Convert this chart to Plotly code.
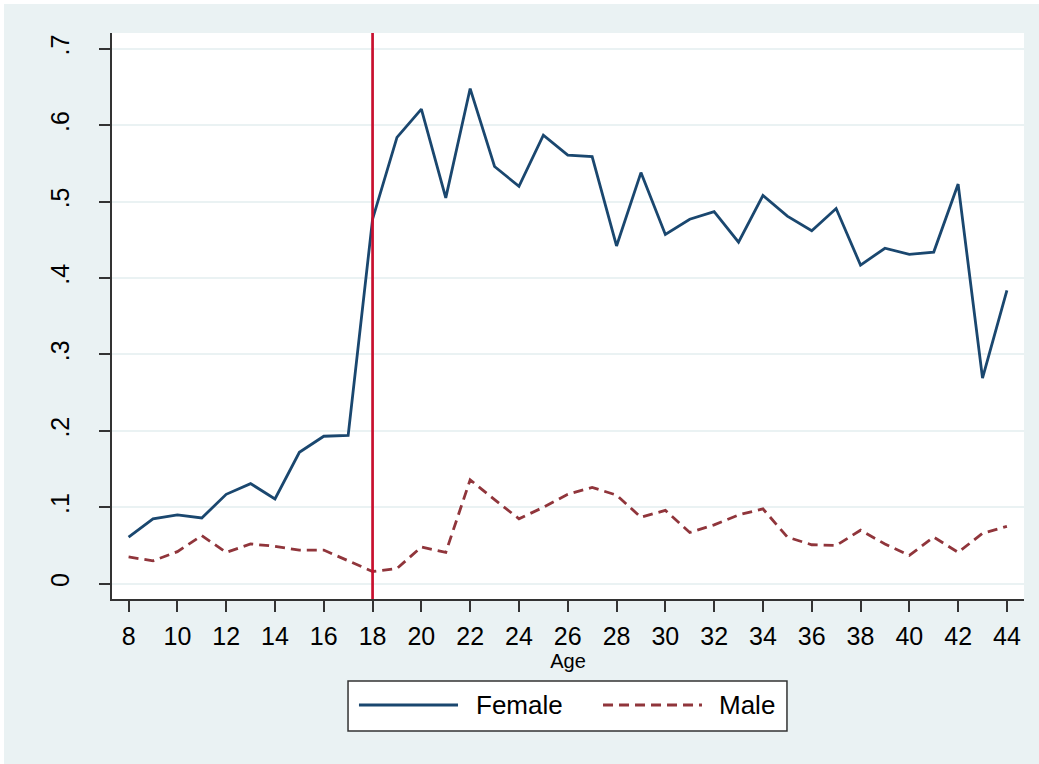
import plotly.graph_objects as go

ages = list(range(8, 45))
female = [0.061, 0.085, 0.090, 0.086, 0.117, 0.131, 0.111, 0.172, 0.193, 0.194,
          0.477, 0.584, 0.621, 0.505, 0.648, 0.546, 0.520, 0.587, 0.561, 0.559,
          0.442, 0.538, 0.457, 0.477, 0.487, 0.447, 0.508, 0.481, 0.462, 0.491,
          0.417, 0.439, 0.431, 0.434, 0.523, 0.269, 0.384]
male = [0.035, 0.030, 0.042, 0.063, 0.041, 0.052, 0.049, 0.044, 0.044, 0.030,
        0.016, 0.020, 0.048, 0.041, 0.136, 0.110, 0.085, 0.100, 0.117, 0.126,
        0.116, 0.087, 0.096, 0.067, 0.077, 0.090, 0.098, 0.061, 0.051, 0.050,
        0.070, 0.052, 0.037, 0.061, 0.041, 0.066, 0.075]
series_names = ["Female", "Male"]
cutoff_age = 18
y_ticks = [0, 0.1, 0.2, 0.3, 0.4, 0.5, 0.6, 0.7]
y_ticktext = ["0", ".1", ".2", ".3", ".4", ".5", ".6", ".7"]
x_ticks = list(range(8, 45, 2))

FONT = "Liberation Sans, Arial, sans-serif"
C_F = "#1A476F"
C_M = "#90353B"
AX = "#333333"

fig = go.Figure()
fig.add_trace(go.Scatter(x=ages, y=female, mode="lines", name=series_names[0],
                         line=dict(color=C_F, width=2.8), showlegend=False))
fig.add_trace(go.Scatter(x=ages, y=male, mode="lines", name=series_names[1],
                         line=dict(color=C_M, width=2.8, dash="10px,6px"),
                         showlegend=False))
fig.add_vline(x=cutoff_age, line=dict(color="#C8102E", width=2.7))

# custom legend box (Stata style), in paper coordinates
fig.add_shape(type="rect", xref="paper", yref="paper", x0=0.2588, x1=0.7401,
              y0=-0.2332, y1=-0.1449, fillcolor="white",
              line=dict(color=AX, width=1.5), layer="above")
ly = -0.1873
fig.add_shape(type="line", xref="paper", yref="paper", x0=0.2708, x1=0.3794,
              y0=ly, y1=ly, line=dict(color=C_F, width=2.8))
fig.add_shape(type="line", xref="paper", yref="paper", x0=0.5384, x1=0.6469,
              y0=ly, y1=ly, line=dict(color=C_M, width=2.8, dash="10px,6px"))
fig.add_annotation(xref="paper", yref="paper", x=0.397, y=ly, text=series_names[0],
                   showarrow=False, xanchor="left", yanchor="middle",
                   font=dict(size=26, family=FONT, color="black"))
fig.add_annotation(xref="paper", yref="paper", x=0.6635, y=ly, text=series_names[1],
                   showarrow=False, xanchor="left", yanchor="middle",
                   font=dict(size=26, family=FONT, color="black"))

fig.update_layout(
    width=1035, height=760,
    paper_bgcolor="#EAF2F3", plot_bgcolor="white",
    margin=dict(l=108, r=15, t=29, b=165),
    font=dict(family=FONT, color="black"),
    showlegend=False,
)
fig.update_xaxes(range=[7.32, 44.70], tickvals=x_ticks, ticks="outside", ticklen=11,
                 tickcolor=AX, tickwidth=1.5, showline=True, linecolor=AX,
                 linewidth=1.5, showgrid=False, zeroline=False,
                 tickfont=dict(size=25, family=FONT), ticklabelstandoff=3,
                 title=dict(text="Age", font=dict(size=20, family=FONT), standoff=0))
fig.update_yaxes(range=[-0.020, 0.7207], tickvals=y_ticks, ticktext=y_ticktext,
                 ticks="outside", ticklen=11, tickcolor=AX, tickwidth=1.5,
                 showline=True, linecolor=AX, linewidth=1.5,
                 showgrid=True, gridcolor="#EAF2F3", gridwidth=2, zeroline=False,
                 tickangle=-90, tickfont=dict(size=25, family=FONT),
                 ticklabelstandoff=20)

fig.write_html(
    "out.html",
    post_script="document.body.style.margin='0';document.body.style.padding='4px 0 0 4px';"
                "document.body.style.background='white';document.body.style.overflow='hidden';",
)
